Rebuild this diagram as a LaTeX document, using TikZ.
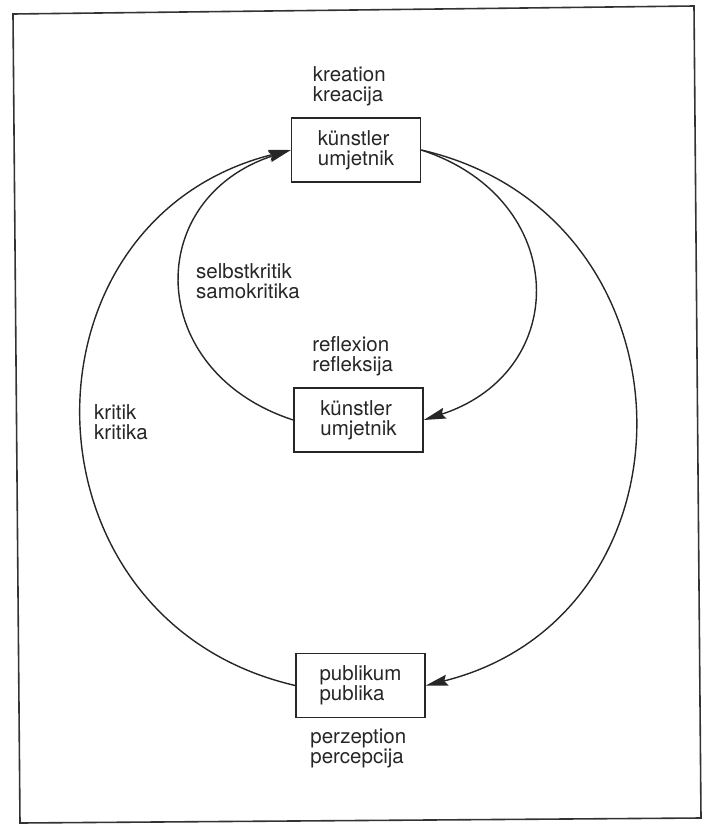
\documentclass[tikz,border=0pt]{standalone}
\usepackage{fontspec}
\setmainfont{TeX Gyre Heros}
\usepackage{tikz}
\usetikzlibrary{arrows.meta, positioning}
\newcommand{\diagfont}{\fontsize{20.5}{20}\selectfont}
\tikzstyle{box}   = [rectangle, draw=black!85, line width=1.5pt,
                     minimum width=129pt, minimum height=64pt,
                     align=left, inner sep=0pt, text=black!85, font=\diagfont]
\tikzstyle{lbl}   = [align=left, inner sep=0pt, text=black!85, font=\diagfont]
\tikzstyle{arrow} = [line width=1.4pt, draw=black!85,
                     -{Stealth[length=22pt, width=11pt, inset=3pt]}]

\begin{document}
\begin{tikzpicture}[x=1pt, y=1pt]
\useasboundingbox (0,0) rectangle (704,-825);

% frame
\draw [line width=1.6pt, black!80] (13,-14) -- (694,-6) -- (701,-818) -- (20,-823) -- cycle;

% boxes
\node (top) [box] at (356,-150)     {künstler\\umjetnik};
\node (mid) [box] at (358.5,-420)   {künstler\\umjetnik};
\node (pub) [box] at (360.5,-685.5) {publikum\\publika};

% labels
\node (kreation)   [lbl, above right=11pt and 22pt of top.north west] {kreation\\kreacija};
\node (reflexion)  [lbl, above right=11pt and 19pt of mid.north west] {reflexion\\refleksija};
\node (perzeption) [lbl, below right=11pt and 15pt of pub.south west] {perzeption\\percepcija};
\node (selbst)     [lbl, anchor=north west] at (196,-263.5) {selbstkritik\\samokritika};
\node (kritik)     [lbl, anchor=north west] at (94,-404.5)  {kritik\\kritika};

% loops
\draw [arrow] (top.east) to[out=-18, in=18, looseness=1.48]  (mid.east);
\draw [arrow] (mid.west) to[out=162, in=198, looseness=1.48] (top.west);
\draw [arrow] (top.east) to[out=-13, in=14, looseness=1.38]  (pub.east);
\draw [arrow] (pub.west) to[out=167, in=194, looseness=1.38] (top.west);

\end{tikzpicture}
\end{document}
